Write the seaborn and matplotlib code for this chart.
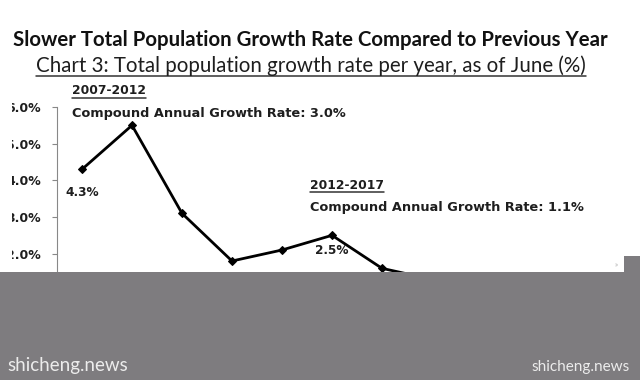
import numpy as np
import pandas as pd
import matplotlib
matplotlib.use("Agg")
import matplotlib.pyplot as plt
import seaborn as sns
from matplotlib.patches import Rectangle
from matplotlib.lines import Line2D

sns.set_style("white")
plt.rcParams["font.family"] = ["Lato", "DejaVu Sans"]

years = [2007, 2008, 2009, 2010, 2011, 2012, 2013, 2014, 2015, 2016, 2017]
growth = [4.3, 5.5, 3.1, 1.8, 2.1, 2.5, 1.6, 1.3, 1.2, 1.3, 0.1]
y_ticks = [0.0, 1.0, 2.0, 3.0, 4.0, 5.0, 6.0]
labelled = {2007: "4.3%", 2012: "2.5%"}

df = pd.DataFrame({"year": years, "growth": growth})

W, H = 640, 380
INK = "#1e1e1e"
CHART_FONT = dict(family=["DejaVu Sans"], fontweight="bold", color=INK)

fig = plt.figure(figsize=(6.4, 3.8), dpi=100)
ax = fig.add_axes([57 / W, 1 - 327 / H, 550 / W, 220 / H])

sns.lineplot(data=df, x="year", y="growth", ax=ax, color="black", linewidth=2,
             marker="D", markersize=4.5, markeredgecolor="black")

ax.set_xlim(2006.5, 2017.5)
ax.set_ylim(0, 6)
ax.set_yticks(y_ticks)
ax.set_yticklabels([f"{t:.1f}%" for t in y_ticks], fontsize=9, **CHART_FONT)
ax.tick_params(axis="y", length=3.6, width=0.8, color="#888888", direction="out",
               left=True, pad=8)
ax.set_xticks([])
ax.set_xlabel("")
ax.set_ylabel("")
for s in ["top", "right"]:
    ax.spines[s].set_visible(False)
ax.spines["left"].set_color("#888888")
ax.spines["left"].set_linewidth(0.8)
ax.spines["bottom"].set_color("#888888")

ax.text(2007, 4.3 - 0.45, labelled[2007], ha="center", va="top", fontsize=8.7,
        **CHART_FONT)
ax.text(2012, 2.5 - 0.25, labelled[2012], ha="center", va="top", fontsize=8.7,
        **CHART_FONT)

title = fig.text(310 / W, 1 - 40 / H,
                 "Slower Total Population Growth Rate Compared to Previous Year",
                 ha="center", va="center", fontsize=14.7, fontweight="bold",
                 color="#111111")
sub = fig.text(311 / W, 1 - 66 / H,
               "Chart 3: Total population growth rate per year, as of June (%)",
               ha="center", va="center", fontsize=14.8, color=INK)

p1 = fig.text(72 / W, 1 - 91 / H, "2007-2012", ha="left", va="center",
              fontsize=8.8, **CHART_FONT)
fig.text(72 / W, 1 - 114 / H, "Compound Annual Growth Rate: 3.0%", ha="left",
         va="center", fontsize=9.3, **CHART_FONT)
p2 = fig.text(310 / W, 1 - 185 / H, "2012-2017", ha="left", va="center",
              fontsize=8.8, **CHART_FONT)
fig.text(310 / W, 1 - 208 / H, "Compound Annual Growth Rate: 1.1%", ha="left",
         va="center", fontsize=9.3, **CHART_FONT)

# underlines
fig.canvas.draw()
r = fig.canvas.get_renderer()
for t in [sub, p1, p2]:
    bb = t.get_window_extent(renderer=r)
    fig.add_artist(Line2D([bb.x0 / W, bb.x1 / W], [bb.y0 / H, bb.y0 / H],
                          transform=fig.transFigure, color="#333333", lw=1.1))

# cropped left edge
fig.add_artist(Rectangle((0, (H - 272) / H), 11.5 / W, (272 - 95) / H,
                         transform=fig.transFigure, facecolor="white",
                         edgecolor="none", zorder=4))

# grey overlay
gray = "#7e7c7f"
fig.add_artist(Rectangle((0, 0), 1, (H - 272) / H, transform=fig.transFigure,
                         facecolor=gray, edgecolor="none", zorder=5))
fig.add_artist(Rectangle((624 / W, 0), 16 / W, (H - 256) / H,
                         transform=fig.transFigure, facecolor=gray,
                         edgecolor="none", zorder=5))
fig.text(616 / W, 1 - 265 / H, "»", ha="center", va="center", fontsize=5,
         color="#aaaaaa")
fig.text(7 / W, 1 - 366 / H, "shicheng.news", ha="left", va="center",
         fontsize=13.5, color="#ececec", zorder=6)
fig.text(630 / W, 1 - 367 / H, "shicheng.news", ha="right", va="center",
         fontsize=11, color="#ececec", zorder=6)

fig.savefig("out.png", dpi=100)
